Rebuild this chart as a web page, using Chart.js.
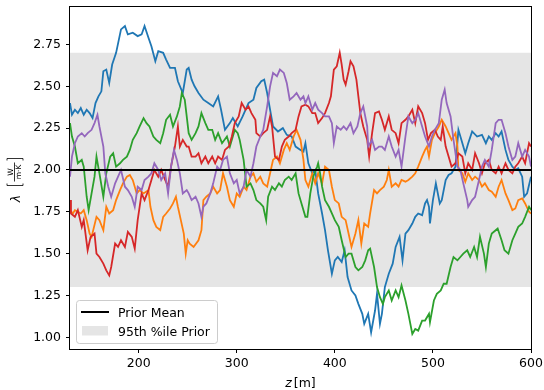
<!DOCTYPE html>
<html>
<head>
<meta charset="utf-8">
<script src="https://cdn.jsdelivr.net/npm/chart.js@4.4.0/dist/chart.umd.min.js"></script>
<style>
  html, body { margin: 0; padding: 0; background: #fff; }
  #wrap { width: 544px; height: 390px; }
</style>
</head>
<body>
<div id="wrap"><canvas id="chart" width="544" height="390"></canvas></div>
<script>
// axis ranges and ticks
const zRange = [130, 600];
const lambdaRange = [0.93, 2.98];
const xTicks = [200, 300, 400, 500, 600];
const yTicks = [1.00, 1.25, 1.50, 1.75, 2.00, 2.25, 2.50, 2.75];

// prior
const priorMean = 2.0;
const priorBand = [1.3, 2.7];

// sampled conductivity profiles [z, lambda]
const blue = [[130,2.40],[132,2.33],[135,2.36],[138,2.34],[141,2.37],[144,2.33],[147,2.36],[150,2.34],[153,2.31],[156,2.40],[159,2.44],[162,2.47],[164,2.59],[167,2.60],[170,2.52],[173,2.63],[177,2.70],[182,2.84],[186,2.86],[189,2.81],[194,2.82],[199,2.80],[203,2.81],[206,2.86],[210,2.79],[213,2.74],[217,2.65],[220,2.71],[225,2.70],[228,2.66],[232,2.61],[237,2.61],[240,2.53],[245,2.46],[249,2.60],[251,2.61],[254,2.54],[257,2.50],[261,2.46],[266,2.42],[271,2.40],[276,2.38],[281,2.44],[284,2.36],[288,2.24],[293,2.28],[296,2.31],[301,2.26],[306,2.32],[312,2.40],[317,2.42],[320,2.49],[325,2.53],[328,2.54],[331,2.46],[334,2.36],[337,2.26],[342,2.23],[347,2.25],[351,2.21],[356,2.20],[360,2.14],[365,2.12],[368,2.11],[370,2.16],[373,2.04],[377,1.98],[380,2.00],[383,1.86],[387,1.74],[390,1.64],[393,1.52],[397,1.38],[400,1.46],[403,1.48],[407,1.45],[410,1.52],[413,1.36],[417,1.28],[421,1.25],[424,1.20],[428,1.14],[430,1.08],[434,1.14],[437,1.03],[441,1.16],[443,1.26],[446,1.08],[448,1.14],[451,1.30],[455,1.38],[459,1.44],[462,1.54],[466,1.60],[469,1.46],[472,1.62],[475,1.64],[479,1.68],[482,1.72],[485,1.74],[489,1.73],[492,1.80],[494,1.82],[496,1.78],[497,1.68],[500,1.82],[503,1.92],[507,1.80],[509,1.82],[513,1.94],[516,1.97],[519,1.98],[523,2.02],[526,2.24],[529,2.18],[533,2.10],[536,2.16],[540,2.23],[545,2.20],[550,2.21],[554,2.16],[557,2.20],[560,2.18],[564,2.22],[567,2.20],[570,2.23],[574,2.12],[577,2.06],[581,2.02],[584,2.00],[587,2.01],[591,1.96],[593,1.84],[596,1.86],[598,1.91],[600,1.96]];

const orange = [[130,1.76],[133,1.74],[135,1.76],[138,1.75],[141,1.74],[144,1.76],[147,1.70],[150,1.62],[152,1.60],[157,1.72],[160,1.70],[164,1.64],[167,1.78],[170,1.74],[174,1.76],[177,1.82],[181,1.88],[184,1.92],[188,1.96],[191,1.97],[194,1.94],[198,1.86],[201,1.88],[205,1.86],[210,1.88],[212,1.78],[215,1.70],[218,1.66],[222,1.64],[225,1.72],[228,1.74],[232,1.77],[235,1.80],[238,1.84],[240,1.78],[243,1.70],[246,1.62],[248,1.50],[250,1.58],[252,1.56],[256,1.54],[261,1.58],[264,1.64],[266,1.82],[269,1.84],[273,1.86],[276,1.90],[280,1.86],[283,1.88],[286,1.98],[290,1.90],[293,1.82],[297,1.78],[300,1.86],[303,1.84],[307,1.90],[310,1.88],[314,1.96],[317,1.98],[320,1.93],[324,1.96],[327,1.92],[331,1.90],[334,1.98],[337,2.06],[341,2.08],[344,2.04],[348,2.12],[351,2.16],[354,2.12],[358,2.20],[361,2.24],[365,2.18],[368,2.06],[370,1.94],[373,1.90],[377,1.98],[380,1.92],[383,1.98],[387,1.92],[390,2.02],[394,2.00],[397,1.90],[400,1.82],[404,1.80],[407,1.72],[411,1.70],[414,1.62],[417,1.54],[421,1.62],[424,1.70],[427,1.56],[430,1.68],[434,1.66],[436,1.74],[440,1.88],[443,1.86],[446,1.88],[450,1.90],[453,1.94],[455,2.00],[458,1.90],[462,1.92],[465,1.90],[468,1.94],[472,1.93],[475,1.94],[479,1.96],[482,1.98],[485,2.02],[489,2.08],[492,2.12],[494,2.14],[496,2.08],[499,2.18],[502,2.22],[506,2.26],[509,2.30],[513,2.26],[516,2.22],[519,2.18],[523,2.22],[525,2.14],[526,2.00],[530,1.98],[533,1.93],[536,1.98],[540,1.94],[543,1.96],[547,1.94],[550,1.90],[553,1.92],[557,1.88],[560,1.87],[564,1.84],[567,1.90],[570,1.94],[574,1.86],[577,1.82],[581,1.76],[584,1.77],[587,1.82],[591,1.83],[594,1.80],[598,1.75],[600,1.74]];

const green = [[130,2.28],[132,2.20],[135,2.14],[138,2.04],[142,2.06],[144,2.02],[147,1.84],[149,1.76],[152,1.86],[155,1.96],[157,2.08],[160,1.98],[164,1.84],[167,1.98],[171,2.08],[174,2.10],[177,2.02],[181,2.04],[184,2.06],[188,2.08],[191,2.12],[194,2.18],[198,2.22],[201,2.26],[205,2.31],[208,2.28],[211,2.26],[215,2.20],[218,2.18],[222,2.16],[225,2.22],[228,2.30],[232,2.33],[235,2.26],[239,2.32],[242,2.38],[244,2.46],[247,2.42],[251,2.22],[254,2.18],[258,2.22],[261,2.26],[264,2.34],[268,2.28],[271,2.24],[275,2.24],[278,2.18],[281,2.22],[285,2.16],[290,2.20],[293,2.14],[298,2.24],[301,2.22],[303,2.18],[307,2.06],[310,1.90],[314,1.92],[317,1.88],[320,1.82],[324,1.80],[327,1.78],[330,1.70],[332,1.84],[336,1.90],[339,1.88],[343,1.92],[346,1.90],[349,1.94],[353,1.96],[356,1.94],[360,1.98],[363,1.86],[366,1.80],[370,1.72],[372,1.72],[375,1.86],[378,1.96],[382,2.02],[383,2.04],[385,1.98],[387,1.90],[390,1.82],[394,1.78],[397,1.74],[400,1.70],[404,1.66],[407,1.58],[411,1.48],[414,1.50],[417,1.50],[421,1.42],[424,1.40],[428,1.42],[431,1.46],[434,1.52],[436,1.53],[440,1.42],[443,1.30],[446,1.24],[449,1.20],[451,1.24],[455,1.28],[458,1.22],[462,1.28],[465,1.24],[468,1.31],[472,1.22],[475,1.14],[479,1.02],[482,1.05],[485,1.04],[489,1.10],[492,1.10],[496,1.14],[497,1.09],[501,1.22],[504,1.26],[508,1.28],[511,1.32],[514,1.32],[518,1.42],[521,1.48],[525,1.46],[528,1.48],[531,1.50],[535,1.52],[538,1.48],[542,1.54],[545,1.48],[548,1.60],[552,1.50],[554,1.42],[557,1.56],[560,1.62],[564,1.64],[566,1.65],[570,1.58],[573,1.52],[577,1.50],[581,1.58],[584,1.62],[587,1.66],[591,1.68],[594,1.72],[598,1.78],[600,1.76]];

const red = [[130,1.82],[131,1.74],[135,1.72],[138,1.76],[142,1.66],[144,1.70],[148,1.52],[151,1.60],[155,1.62],[157,1.50],[160,1.48],[164,1.44],[167,1.40],[170,1.37],[172,1.42],[176,1.56],[179,1.54],[182,1.58],[186,1.54],[189,1.63],[193,1.60],[196,1.53],[199,1.70],[203,1.86],[206,1.82],[210,1.88],[213,1.94],[216,2.00],[220,1.96],[223,2.00],[227,1.94],[230,1.90],[233,2.02],[237,2.14],[240,2.26],[242,2.14],[245,2.18],[249,2.14],[251,2.14],[254,2.08],[258,2.08],[261,2.10],[264,2.04],[268,2.08],[271,2.04],[275,2.08],[278,2.04],[281,2.08],[285,2.06],[288,2.12],[292,2.14],[295,2.20],[298,2.28],[302,2.32],[305,2.40],[309,2.36],[312,2.38],[315,2.34],[319,2.30],[320,2.22],[324,2.20],[327,2.22],[331,2.24],[334,2.32],[336,2.26],[339,2.08],[343,2.06],[346,2.14],[349,2.18],[353,2.20],[356,2.22],[360,2.24],[363,2.32],[366,2.38],[370,2.39],[373,2.38],[377,2.34],[380,2.34],[383,2.28],[387,2.31],[390,2.34],[394,2.40],[396,2.44],[399,2.60],[402,2.62],[405,2.70],[407,2.63],[409,2.54],[411,2.51],[414,2.59],[416,2.65],[419,2.62],[422,2.54],[424,2.44],[426,2.34],[429,2.26],[433,2.18],[435,2.08],[438,2.22],[441,2.34],[445,2.35],[448,2.30],[451,2.24],[455,2.32],[458,2.24],[462,2.22],[465,2.16],[468,2.28],[472,2.30],[475,2.32],[479,2.36],[482,2.28],[485,2.38],[489,2.34],[492,2.28],[495,2.18],[498,2.22],[502,2.24],[505,2.20],[508,2.18],[510,2.26],[513,2.14],[516,2.08],[519,2.02],[523,2.04],[526,2.10],[530,2.08],[533,1.98],[536,2.04],[540,2.00],[543,2.10],[547,2.04],[550,1.98],[553,2.04],[557,2.06],[560,2.00],[564,1.98],[567,2.02],[570,1.98],[574,2.04],[577,2.00],[581,1.98],[584,2.02],[587,2.04],[591,2.08],[594,2.04],[598,2.16],[600,2.14]];

const purple = [[130,1.96],[132,2.08],[135,2.16],[138,2.20],[142,2.22],[145,2.20],[148,2.22],[152,2.24],[155,2.28],[158,2.33],[160,2.26],[164,2.14],[166,1.98],[169,1.90],[172,1.84],[176,1.92],[179,1.96],[182,2.00],[186,1.90],[189,1.88],[193,1.84],[196,1.78],[199,1.90],[203,1.88],[206,1.94],[210,1.96],[213,1.98],[216,2.04],[220,2.00],[223,1.94],[227,1.98],[230,1.86],[233,2.02],[236,2.12],[239,2.06],[242,1.98],[245,1.86],[249,1.88],[251,1.86],[254,1.82],[258,1.84],[261,1.80],[264,1.72],[266,1.78],[269,1.80],[273,1.86],[276,1.92],[280,2.02],[283,2.00],[286,2.06],[290,2.08],[293,1.98],[297,1.92],[300,1.94],[303,1.86],[307,1.90],[310,2.00],[314,1.96],[317,2.04],[320,2.14],[324,2.20],[327,2.24],[331,2.38],[334,2.50],[337,2.58],[341,2.56],[344,2.60],[348,2.58],[351,2.52],[354,2.42],[358,2.44],[361,2.46],[365,2.42],[368,2.44],[370,2.40],[373,2.44],[377,2.36],[380,2.40],[383,2.36],[387,2.34],[390,2.32],[394,2.32],[397,2.28],[399,2.16],[402,2.26],[406,2.24],[409,2.26],[412,2.24],[416,2.28],[419,2.22],[423,2.26],[426,2.34],[429,2.38],[433,2.26],[434,2.14],[438,2.18],[441,2.12],[445,2.14],[448,2.14],[451,2.12],[455,2.20],[458,2.14],[462,2.08],[465,2.12],[468,2.02],[472,2.20],[475,2.32],[479,2.28],[482,2.30],[485,2.34],[489,2.26],[492,2.20],[496,2.14],[499,2.20],[502,2.24],[506,2.28],[509,2.42],[512,2.48],[514,2.40],[518,2.32],[521,2.18],[525,2.02],[528,2.00],[531,1.92],[535,1.82],[536,1.78],[540,1.82],[543,1.84],[547,1.94],[550,2.02],[553,2.06],[557,2.02],[560,2.12],[564,2.28],[567,2.30],[570,2.30],[574,2.22],[577,2.14],[581,2.06],[584,2.08],[587,2.16],[591,2.08],[594,2.12],[598,2.08],[600,2.02]];

const FONT = '"DejaVu Sans", sans-serif';
const toPts = arr => arr.map(p => ({ x: p[0], y: p[1] }));

function profile(data, color, order) {
  return {
    data: toPts(data),
    borderColor: color,
    borderWidth: 1.8,
    pointRadius: 0,
    tension: 0,
    fill: false,
    order: order
  };
}

// axes box, labels and legend drawn on top
const decorations = {
  id: "decorations",
  afterDraw(chart) {
    const ctx = chart.ctx;
    const a = chart.chartArea;
    ctx.save();

    // spines
    ctx.strokeStyle = "#000";
    ctx.lineWidth = 1;
    ctx.strokeRect(Math.round(a.left) - 0.5, Math.round(a.top) + 0.5,
      Math.round(a.right - a.left) + 1, Math.round(a.bottom - a.top));

    // x title: z [m]
    ctx.fillStyle = "#000";
    ctx.textBaseline = "alphabetic";
    ctx.textAlign = "left";
    const cx = (a.left + a.right) / 2;
    ctx.font = "italic 12.5px " + FONT;
    const zw = ctx.measureText("z").width;
    ctx.font = "12.5px " + FONT;
    const mw = ctx.measureText("[m]").width;
    const x0 = cx - (zw + 2 + mw) / 2;
    ctx.font = "italic 12.5px " + FONT;
    ctx.fillText("z", x0, 387);
    ctx.font = "12.5px " + FONT;
    ctx.fillText("[m]", x0 + zw + 2, 387);

    // y title: lambda [W / (m K)]
    ctx.save();
    ctx.translate(17, (a.top + a.bottom) / 2 + 4);
    ctx.rotate(-Math.PI / 2);
    ctx.textAlign = "center";
    ctx.font = "italic 12.5px " + FONT;
    ctx.fillText("λ", -17, 3);
    ctx.beginPath();
    ctx.moveTo(-2, -10); ctx.lineTo(-4, -10); ctx.lineTo(-4, 6); ctx.lineTo(-2, 6);
    ctx.moveTo(21, -10); ctx.lineTo(23, -10); ctx.lineTo(23, 6); ctx.lineTo(21, 6);
    ctx.moveTo(0, -2.5); ctx.lineTo(19, -2.5);
    ctx.lineWidth = 0.8;
    ctx.stroke();
    ctx.font = "7.5px " + FONT;
    ctx.fillText("W", 9.5, -4.5);
    ctx.fillText("m·K", 9.5, 3.5);
    ctx.restore();

    // legend
    const bx = 76.5, by = 300.5, bw = 141, bh = 43;
    ctx.beginPath();
    ctx.roundRect(bx, by, bw, bh, 3);
    ctx.fillStyle = "rgba(255,255,255,0.8)";
    ctx.fill();
    ctx.strokeStyle = "#cccccc";
    ctx.lineWidth = 1;
    ctx.stroke();

    ctx.beginPath();
    ctx.moveTo(81, 312);
    ctx.lineTo(109, 312);
    ctx.strokeStyle = "#000";
    ctx.lineWidth = 2;
    ctx.stroke();
    ctx.fillStyle = "#e5e5e5";
    ctx.fillRect(82, 326, 26, 9.5);

    ctx.fillStyle = "#000";
    ctx.font = "12.5px " + FONT;
    ctx.textAlign = "left";
    ctx.fillText("Prior Mean", 118, 316.5);
    ctx.fillText("95th %ile Prior", 118, 335.5);
    ctx.restore();
  }
};

const tickFont = { family: FONT, size: 12.5 };

new Chart(document.getElementById("chart"), {
  type: "line",
  data: {
    datasets: [
      {
        data: [{ x: zRange[0], y: priorMean }, { x: zRange[1], y: priorMean }],
        borderColor: "#000",
        borderWidth: 2,
        pointRadius: 0,
        fill: false,
        order: 0
      },
      profile(purple, "#9467bd", 1),
      profile(red, "#d62728", 2),
      profile(green, "#2ca02c", 3),
      profile(orange, "#ff7f0e", 4),
      profile(blue, "#1f77b4", 5),
      {
        data: [{ x: zRange[0], y: priorBand[1] }, { x: zRange[1], y: priorBand[1] }],
        borderWidth: 0,
        borderColor: "rgba(0,0,0,0)",
        backgroundColor: "#e5e5e5",
        pointRadius: 0,
        fill: { value: priorBand[0] },
        order: 6
      }
    ]
  },
  options: {
    responsive: false,
    animation: false,
    devicePixelRatio: 1,
    layout: { padding: { top: 6, right: 13, left: 0, bottom: 0 } },
    plugins: {
      legend: { display: false },
      tooltip: { enabled: false }
    },
    scales: {
      x: {
        type: "linear",
        min: zRange[0],
        max: zRange[1],
        afterBuildTicks: s => { s.ticks = xTicks.map(v => ({ value: v })); },
        afterFit: s => { s.height = 41; s.paddingLeft = 0; s.paddingRight = 0; },
        ticks: {
          font: tickFont,
          color: "#000",
          padding: 3,
          maxRotation: 0,
          autoSkip: false,
          callback: v => String(v)
        },
        grid: { drawOnChartArea: false, drawTicks: true, tickLength: 4, tickColor: "#000", tickWidth: 1 },
        border: { display: false }
      },
      y: {
        type: "linear",
        min: lambdaRange[0],
        max: lambdaRange[1],
        afterBuildTicks: s => { s.ticks = yTicks.map(v => ({ value: v })); },
        afterFit: s => { s.width = 70; s.paddingTop = 0; s.paddingBottom = 0; },
        ticks: {
          font: tickFont,
          color: "#000",
          padding: 5,
          autoSkip: false,
          callback: v => Number(v).toFixed(2)
        },
        grid: { drawOnChartArea: false, drawTicks: true, tickLength: 4, tickColor: "#000", tickWidth: 1 },
        border: { display: false }
      }
    }
  },
  plugins: [decorations]
});
</script>
</body>
</html>
